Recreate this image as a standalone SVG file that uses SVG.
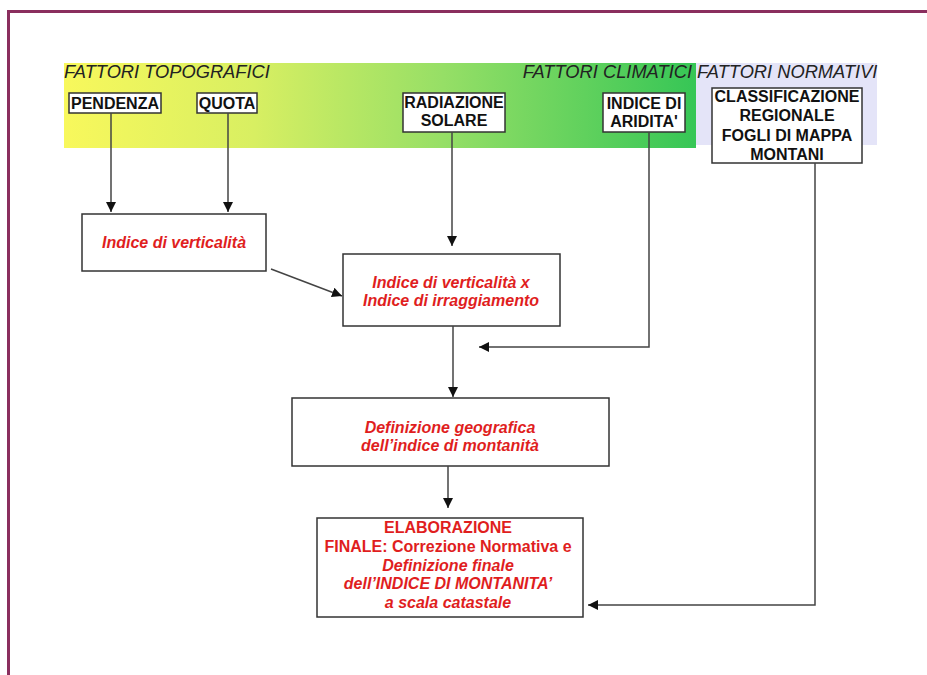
<svg xmlns="http://www.w3.org/2000/svg" width="927" height="675" viewBox="0 0 927 675">
<defs>
<linearGradient id="band" x1="0" y1="0" x2="1" y2="0">
<stop offset="0" stop-color="#f8f85c"/>
<stop offset="0.3" stop-color="#d8ef62"/>
<stop offset="0.6" stop-color="#96df66"/>
<stop offset="1" stop-color="#36c656"/>
</linearGradient>
<marker id="ah" viewBox="0 0 10 10" refX="10" refY="5" markerWidth="10" markerHeight="10" markerUnits="userSpaceOnUse" orient="auto">
<path d="M0,0 L10,5 L0,10 z" fill="#111"/>
</marker>
<style>
.box{fill:#fff;stroke:#333;stroke-width:1.5}
.lbl{font-family:"Liberation Sans",Arial,sans-serif;font-weight:bold;font-size:16px;fill:#111;text-anchor:middle}
.red{font-family:"Liberation Sans",Arial,sans-serif;font-weight:bold;font-style:italic;font-size:16px;fill:#e01e1e;text-anchor:middle}
.up{font-style:normal}
.hdr{font-family:"Liberation Sans",Arial,sans-serif;font-style:italic;font-size:18.3px;fill:#222}
.con{fill:none;stroke:#444;stroke-width:1.5}
</style>
</defs>
<rect width="927" height="675" fill="#fff"/>
<path d="M8.5,675 V11.5 H927" fill="none" stroke="#8a2e5e" stroke-width="3"/>
<g id="bands">
<rect x="64" y="63" width="632" height="85" fill="url(#band)"/>
<rect x="696" y="63" width="181" height="82" fill="#e4e4f8"/>
<text class="hdr" x="64" y="78">FATTORI TOPOGRAFICI</text>
<text class="hdr" x="692" y="78" text-anchor="end">FATTORI CLIMATICI</text>
<text class="hdr" x="697" y="78">FATTORI NORMATIVI</text>
</g>
<g id="pendenza"><rect class="box" x="69" y="93" width="92" height="20"/><text class="lbl" x="115" y="109">PENDENZA</text></g>
<g id="quota"><rect class="box" x="197" y="93" width="60" height="20"/><text class="lbl" x="227" y="109">QUOTA</text></g>
<g id="radiazione"><rect class="box" x="403" y="93" width="102" height="39"/><text class="lbl" x="454" y="108">RADIAZIONE</text><text class="lbl" x="454" y="126">SOLARE</text></g>
<g id="aridita"><rect class="box" x="603" y="93" width="82" height="39"/><text class="lbl" x="644" y="109">INDICE DI</text><text class="lbl" x="644" y="127">ARIDITA'</text></g>
<g id="classificazione"><rect class="box" x="712" y="88" width="150" height="75"/><text class="lbl" x="787" y="102">CLASSIFICAZIONE</text><text class="lbl" x="787" y="121">REGIONALE</text><text class="lbl" x="787" y="141">FOGLI DI MAPPA</text><text class="lbl" x="787" y="160">MONTANI</text></g>
<g id="verticalita"><rect class="box" x="82" y="214" width="184" height="57"/><text class="red" x="174" y="248">Indice di verticalità</text></g>
<g id="irraggiamento"><rect class="box" x="343" y="254" width="217" height="72"/><text class="red" x="451" y="288">Indice di verticalità x</text><text class="red" x="451" y="306">Indice di irraggiamento</text></g>
<g id="definizione"><rect class="box" x="292" y="398" width="317" height="68"/><text class="red" x="450" y="433">Definizione geografica</text><text class="red" x="450" y="451">dell’indice di montanità</text></g>
<g id="elaborazione"><rect class="box" x="317" y="518" width="266" height="99"/>
<text class="red up" x="448" y="533">ELABORAZIONE</text>
<text class="red up" x="448" y="552">FINALE: Correzione Normativa e</text>
<text class="red" x="448" y="571">Definizione finale</text>
<text class="red" x="448" y="589">dell’INDICE DI MONTANITA’</text>
<text class="red" x="448" y="608">a scala catastale</text></g>
<g id="connectors">
<path class="con" d="M111,113 V212" marker-end="url(#ah)"/>
<path class="con" d="M228,113 V212" marker-end="url(#ah)"/>
<path class="con" d="M452,132 V246" marker-end="url(#ah)"/>
<path class="con" d="M271,269 L342,296" marker-end="url(#ah)"/>
<path class="con" d="M649,132 V347 H479" marker-end="url(#ah)"/>
<path class="con" d="M453,326 V397" marker-end="url(#ah)"/>
<path class="con" d="M448,466 V508" marker-end="url(#ah)"/>
<path class="con" d="M815,163 V605 H588" marker-end="url(#ah)"/>
</g>
</svg>
